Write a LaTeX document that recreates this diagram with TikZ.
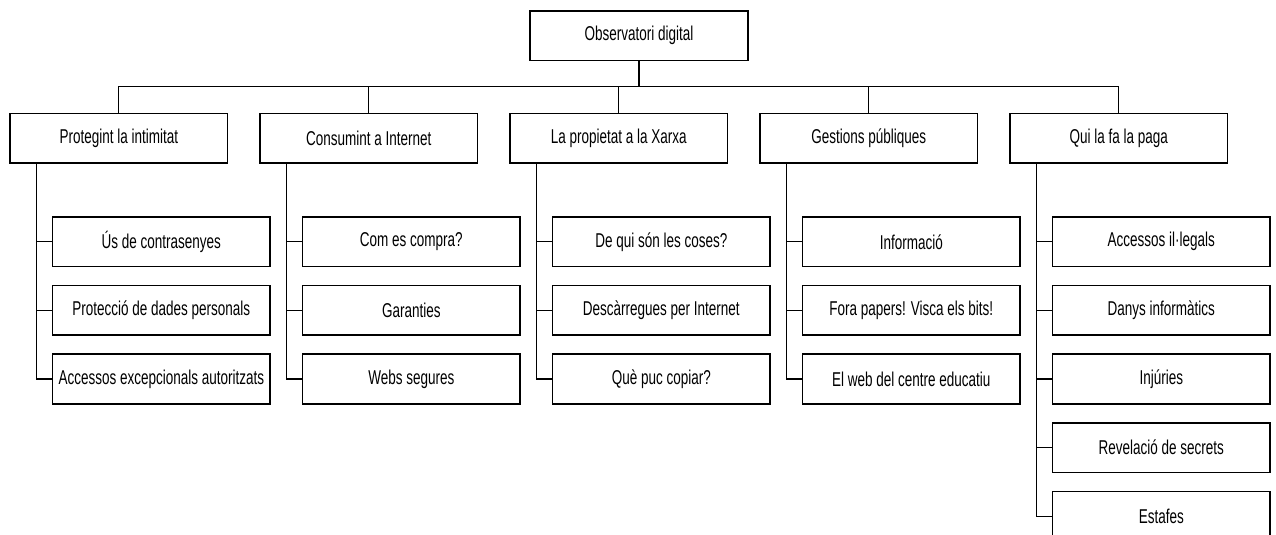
\documentclass[tikz,border=0pt]{standalone}
\usepackage{fontspec}
\setmainfont[FakeStretch=0.675]{Liberation Sans}
\begin{document}
\begin{tikzpicture}[x=1pt,y=1pt,
  box/.style={draw=black, line width=1.6pt, fill=white, minimum width=217.5pt, minimum height=49.5pt,
    inner sep=0pt, font=\fontsize{20}{24}\selectfont},
  conn/.style={draw=black, line width=1.3pt}]
\clip (0,0) rectangle (1276,-535);
\fill[white] (0,0) rectangle (1276,-535);
% root
\node[box] (root) at (639,-35.75) {Observatori digital};
% level 1
\foreach \i/\t in {1/Protegint la intimitat,2/Consumint a Internet,3/La propietat a la Xarxa,4/Gestions públiques,5/Qui la fa la paga}{
  \node[box] (p\i) at ({118.8+250*(\i-1)},-138.4) {\t};
}
\coordinate (bus) at (0,-86.5);
\draw[conn] (root.south) -- (root.south |- bus);
\draw[conn] (p1.north) |- (p5.north |- bus) -- (p5.north);
\foreach \i in {2,3,4}{\draw[conn] (p\i.north) -- (p\i.north |- bus);}
% children
\newcommand{\kid}[4]{% parent index, child index, text, name
  \node[box] (c#1#2) at ({118.8+250*(#1-1)+42.5},{-241.75-68.6*(#2-1)}) {#3};
  \draw[conn] ([xshift=27pt]p#1.south west) |- (c#1#2.west);
}
\kid{1}{1}{Ús de contrasenyes}{}
\kid{1}{2}{Protecció de dades personals}{}
\kid{1}{3}{Accessos excepcionals autoritzats}{}
\kid{2}{1}{Com es compra?}{}
\kid{2}{2}{Garanties}{}
\kid{2}{3}{Webs segures}{}
\kid{3}{1}{De qui són les coses?}{}
\kid{3}{2}{Descàrregues per Internet}{}
\kid{3}{3}{Què puc copiar?}{}
\kid{4}{1}{Informació}{}
\kid{4}{2}{Fora papers! Visca els bits!}{}
\kid{4}{3}{El web del centre educatiu}{}
\kid{5}{1}{Accessos il·legals}{}
\kid{5}{2}{Danys informàtics}{}
\kid{5}{3}{Injúries}{}
\kid{5}{4}{Revelació de secrets}{}
\kid{5}{5}{Estafes}{}
\end{tikzpicture}
\end{document}
